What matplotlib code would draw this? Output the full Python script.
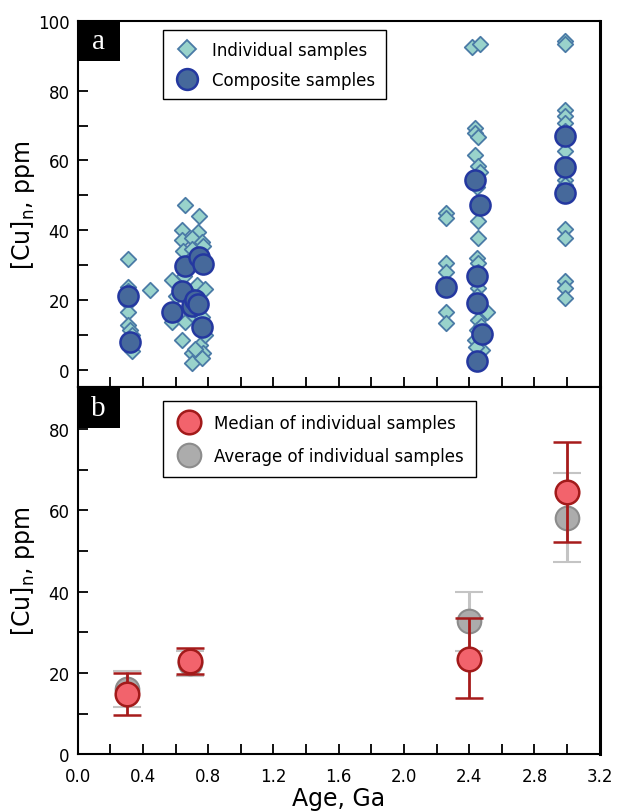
import matplotlib
matplotlib.use("Agg")
import matplotlib.pyplot as plt
from matplotlib.patches import Rectangle
from matplotlib.lines import Line2D
from matplotlib.ticker import MultipleLocator
import numpy as np

# ---- Panel a: individual samples ----
ind_age = [0.31, 0.31, 0.31, 0.31, 0.31, 0.31, 0.32, 0.33, 0.33, 0.33, 0.44,
           0.656, 0.742, 0.64, 0.736, 0.64, 0.70, 0.76, 0.77, 0.645, 0.70, 0.74,
           0.58, 0.65, 0.73, 0.78, 0.60, 0.68, 0.576, 0.656, 0.70, 0.76, 0.64,
           0.70, 0.75, 0.77, 0.70, 0.76, 0.72, 0.78,
           2.26, 2.26, 2.26, 2.26, 2.26, 2.26,
           2.42, 2.465, 2.435, 2.435, 2.455, 2.435, 2.455, 2.465, 2.445, 2.465,
           2.455, 2.455, 2.445, 2.455, 2.455, 2.455, 2.445, 2.455, 2.51, 2.455,
           2.445, 2.435, 2.48, 2.44, 2.47,
           2.99, 2.99, 2.99, 2.99, 2.99, 2.99, 2.99, 2.99, 2.99, 2.99, 2.99,
           2.99, 2.99, 2.99]
ind_cu = [31.8, 23.8, 22.5, 19.2, 16.6, 12.9, 11.5, 10.0, 7.5, 5.5, 22.8,
          47.3, 44.0, 40.0, 39.6, 37.3, 37.9, 36.7, 35.5, 33.9, 34.5, 33.0,
          25.8, 27.0, 24.4, 23.0, 21.0, 20.0, 13.8, 13.8, 16.0, 15.0, 8.6,
          4.9, 7.2, 4.9, 2.0, 3.4, 6.0, 10.0,
          45.0, 43.6, 30.7, 28.1, 16.4, 13.5,
          92.4, 93.3, 69.4, 68.0, 66.6, 61.7, 58.3, 56.8, 52.5, 46.8,
          42.5, 37.9, 32.1, 30.7, 28.0, 23.5, 21.0, 17.8, 16.4, 14.3,
          11.5, 8.6, 5.7, 6.5, 12.5,
          94.2, 93.3, 74.6, 72.7, 70.8, 68.5, 62.6, 54.5, 53.0, 40.2, 37.9,
          25.3, 23.5, 20.7]

# ---- Panel a: composite samples ----
comp_age = [0.31, 0.32, 0.576, 0.64, 0.656, 0.70, 0.72, 0.735, 0.742, 0.767, 0.76,
            2.26, 2.435, 2.465, 2.45, 2.45, 2.48, 2.45, 2.99, 2.99, 2.99]
comp_cu = [21.0, 8.0, 16.4, 22.6, 29.8, 18.3, 20.0, 18.8, 32.4, 30.3, 12.2,
           23.7, 54.5, 47.3, 26.8, 19.2, 10.2, 2.5, 67.1, 58.0, 50.6]

# ---- Panel b ----
b_age = [0.3, 0.69, 2.4, 3.0]
med = [14.8, 22.9, 23.4, 64.5]
med_lo = [9.6, 19.8, 13.8, 52.2]
med_hi = [19.9, 26.1, 33.4, 76.8]
avg = [16.0, 22.5, 32.7, 58.2]
avg_lo = [11.6, 19.3, 25.4, 47.3]
avg_hi = [20.4, 25.4, 40.0, 69.1]

xticks = [0.0, 0.4, 0.8, 1.2, 1.6, 2.0, 2.4, 2.8, 3.2]

IND_FC, IND_EC = '#99d3cb', '#4a7aa6'
COMP_FC, COMP_EC = '#46699b', '#2438a0'
MED_FC, MED_EC, MED_ERR = '#f2636c', '#a21a1a', '#a61b1b'
AVG_FC, AVG_EC, AVG_ERR = '#acacac', '#8c8c8c', '#c4c4c4'

fig = plt.figure(figsize=(6.17, 8.12), dpi=100)
ax1 = fig.add_axes([0.126, 0.522, 0.846, 0.451])
ax2 = fig.add_axes([0.126, 0.070, 0.846, 0.452])

def style(ax):
    ax.set_xlim(0, 3.2)
    ax.xaxis.set_major_locator(MultipleLocator(0.4))
    ax.xaxis.set_minor_locator(MultipleLocator(0.2))
    ax.yaxis.set_major_locator(MultipleLocator(20))
    ax.yaxis.set_minor_locator(MultipleLocator(10))
    ax.tick_params(which='both', direction='in', top=False, right=False,
                   width=1.3, labelsize=12, length=7)
    ax.tick_params(axis='x', pad=9)
    ax.tick_params(axis='y', pad=6)
    for s in ax.spines.values():
        s.set_linewidth(1.5)
    ax.spines['right'].set_linewidth(2.2)

style(ax1)
style(ax2)

ylabel = '[Cu]$_\\mathregular{n}$, ppm'

# Panel a
ax1.set_ylim(-5, 100)
ax1.scatter(ind_age, ind_cu, marker='D', s=62, facecolor=IND_FC,
            edgecolor=IND_EC, linewidth=1.3, zorder=2)
ax1.scatter(comp_age, comp_cu, marker='o', s=210, facecolor=COMP_FC,
            edgecolor=COMP_EC, linewidth=1.8, zorder=3)
ax1.set_xticklabels([])
ax1.set_ylabel(ylabel, fontsize=17)
ax1.yaxis.set_label_coords(-0.078, 0.5)
hA = [Line2D([], [], ls='none', marker='D', ms=9, mfc=IND_FC, mec=IND_EC, mew=1.3),
      Line2D([], [], ls='none', marker='o', ms=15, mfc=COMP_FC, mec=COMP_EC, mew=1.8)]
leg1 = ax1.legend(hA, ['Individual samples', 'Composite samples'],
                  loc='upper left', bbox_to_anchor=(0.163, 0.975),
                  borderaxespad=0, fancybox=False, edgecolor='black',
                  fontsize=12, borderpad=0.65, handletextpad=0.7,
                  labelspacing=0.7, framealpha=1, handlelength=1.6)
leg1.get_frame().set_linewidth(1.0)

# Panel b
ax2.set_ylim(0, 90.3)
med_a = np.array(med)
avg_a = np.array(avg)
ax2.errorbar(b_age, avg, yerr=[avg_a - np.array(avg_lo), np.array(avg_hi) - avg_a],
             fmt='o', ms=17, mfc=AVG_FC, mec=AVG_EC, mew=1.5,
             ecolor=AVG_ERR, elinewidth=2.2, capsize=10, capthick=2.2, zorder=2)
ax2.errorbar(b_age, med, yerr=[med_a - np.array(med_lo), np.array(med_hi) - med_a],
             fmt='o', ms=17, mfc=MED_FC, mec=MED_EC, mew=1.8,
             ecolor=MED_ERR, elinewidth=2.0, capsize=10, capthick=2.0, zorder=3)
ax2.set_xticks(xticks)
ax2.set_xticklabels(['%.1f' % t for t in xticks])
ax2.set_xlabel('Age, Ga', fontsize=17, labelpad=1)
ax2.set_ylabel(ylabel, fontsize=17)
ax2.yaxis.set_label_coords(-0.078, 0.5)
hB = [Line2D([], [], ls='none', marker='o', ms=17, mfc=MED_FC, mec=MED_EC, mew=1.8),
      Line2D([], [], ls='none', marker='o', ms=17, mfc=AVG_FC, mec=AVG_EC, mew=1.5)]
leg2 = ax2.legend(hB, ['Median of individual samples', 'Average of individual samples'],
                  loc='upper left', bbox_to_anchor=(0.163, 0.962),
                  borderaxespad=0, fancybox=False, edgecolor='black',
                  fontsize=12, borderpad=0.75, handletextpad=0.7,
                  labelspacing=0.9, framealpha=1, handlelength=1.6)
leg2.get_frame().set_linewidth(1.0)

# Panel letters
for ax, letter, h in [(ax1, 'a', 0.109), (ax2, 'b', 0.112)]:
    ax.add_patch(Rectangle((0, 1 - h), 0.080, h, transform=ax.transAxes,
                           facecolor='black', edgecolor='none', zorder=5,
                           clip_on=False))
    ax.text(0.040, 1 - h / 2, letter, transform=ax.transAxes, color='white',
            fontsize=21, family='Liberation Serif', ha='center', va='center',
            zorder=6)

fig.savefig('out.png', dpi=100)
